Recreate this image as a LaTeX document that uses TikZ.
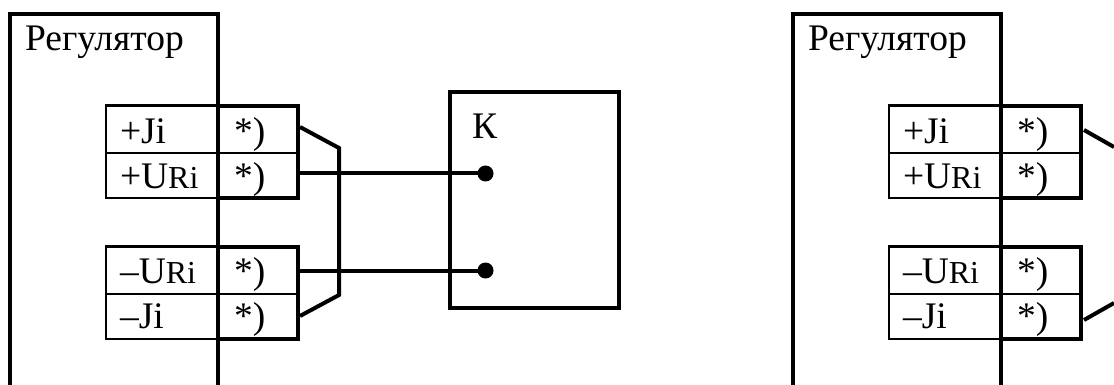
\documentclass[tikz,border=0pt]{standalone}
\usepackage{fontspec}
\setmainfont{Liberation Serif}
\newcommand{\bigtxt}{\fontsize{37.5}{42}\selectfont}
\newcommand{\smalltxt}{\fontsize{32}{36}\selectfont}
\tikzset{
  thickline/.style={line width=4pt,black},
  thinline/.style={line width=2.5pt,black},
  cellbox/.style={draw,thinline,rectangle,minimum width=192pt,minimum height=#1,inner sep=0pt,outer sep=0pt},
  outerbox/.style={draw,thickline,rectangle,minimum width=80pt,minimum height=92.5pt,inner sep=0pt,outer sep=0pt},
  dotnode/.style={circle,fill=black,minimum size=16pt,inner sep=0pt,outer sep=0pt},
  label/.style={anchor=base west,inner sep=0pt,outer sep=0pt,font=\bigtxt},
  kbox/.style={draw,thickline,rectangle,minimum width=169pt,minimum height=216pt,inner sep=0pt,outer sep=0pt},
}
\newcommand{\panel}[2]{%
  \begin{scope}[shift={(#1,0)}]
    \coordinate (#2tl) at (10,-14);
    \coordinate (#2tr) at (218,-14);
    \coordinate (#2bl) at (10,-385);
    \coordinate (#2br) at (218,-385);
    \draw[thickline] (#2bl) -- (#2tl) -- (#2tr) -- (#2br);
    \node[label] (#2title) at (25,-51) {Регулятор};
    \node[cellbox=47.5pt] (#2a) at (202,-129.25) {};
    \node[cellbox=45pt] (#2b) at (202,-175.5) {};
    \node[cellbox=47.5pt] (#2c) at (202,-270.25) {};
    \node[cellbox=45pt] (#2d) at (202,-316.5) {};
    \node[outerbox] (#2u) at (258,-152) {};
    \node[outerbox] (#2v) at (258,-293) {};
    \node[label] (#2la) at (120,-143) {+Ji};
    \node[label] (#2lb) at (120,-188) {+U{\smalltxt Ri}};
    \node[label] (#2lc) at (120,-283) {–U{\smalltxt Ri}};
    \node[label] (#2ld) at (120,-328) {–Ji};
    \node[label] (#2sa) at (234,-143) {*)};
    \node[label] (#2sb) at (234,-188) {*)};
    \node[label] (#2sc) at (234,-283) {*)};
    \node[label] (#2sd) at (234,-328) {*)};
  \end{scope}}
\begin{document}
\begin{tikzpicture}[x=1pt,y=1pt]
  \useasboundingbox (0,0) rectangle (1114,-385);
  \panel{0}{L}
  \panel{783}{R}
  % K box
  \node[kbox] (K) at (534.5,-200) {};
  \node[label] (Klabel) at (472,-139) {К};
  \node[dotnode] (d1) at (485.5,-173.5) {};
  \node[dotnode] (d2) at (485.5,-270.5) {};
  % left wiring
  \coordinate (p1) at (300,-127);
  \coordinate (p2) at (300,-173.5);
  \coordinate (p3) at (300,-270.5);
  \coordinate (p4) at (300,-316);
  \coordinate (j1) at (339,-148);
  \coordinate (j2) at (339,-295);
  \draw[thickline] (p1) -- (j1) -- (j2) -- (p4);
  \draw[thickline] (p2) -- (d1);
  \draw[thickline] (p3) -- (d2);
  % right wiring, running off the picture
  \coordinate (q1) at (1084,-130);
  \coordinate (q2) at (1114,-147);
  \coordinate (q3) at (1084,-320);
  \coordinate (q4) at (1114,-303);
  \draw[thickline] (q1) -- (q2);
  \draw[thickline] (q3) -- (q4);
\end{tikzpicture}
\end{document}
